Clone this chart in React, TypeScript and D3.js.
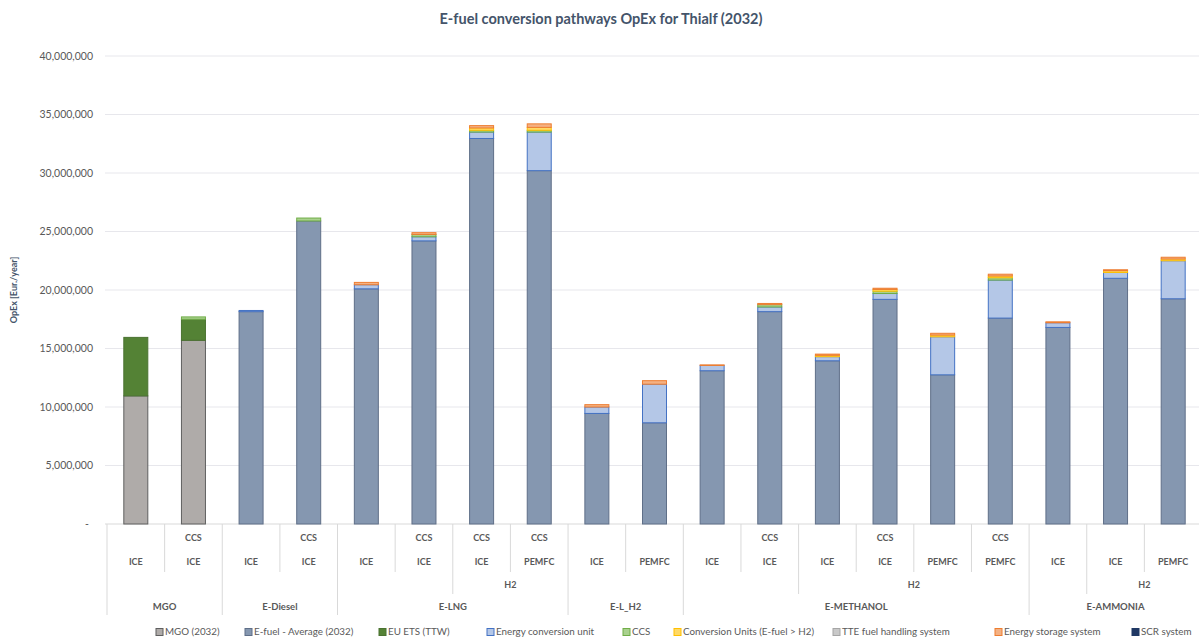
import React, { useEffect } from "react";
import * as d3 from "d3";

// ---------- DATA ----------
const level1 = ["", "CCS", "", "CCS", "", "CCS", "CCS", "CCS", "", "", "", "CCS", "", "CCS", "", "CCS", "", "", ""];
const level2 = ["ICE", "ICE", "ICE", "ICE", "ICE", "ICE", "ICE", "PEMFC", "ICE", "PEMFC", "ICE", "ICE", "ICE", "ICE", "PEMFC", "PEMFC", "ICE", "ICE", "PEMFC"];
const level3 = ["", "", "", "", "", "", "H2", "H2", "", "", "", "", "H2", "H2", "H2", "H2", "", "H2", "H2"];
const level4 = ["MGO", "MGO", "E-Diesel", "E-Diesel", "E-LNG", "E-LNG", "E-LNG", "E-LNG", "E-L_H2", "E-L_H2", "E-METHANOL", "E-METHANOL", "E-METHANOL", "E-METHANOL", "E-METHANOL", "E-METHANOL", "E-AMMONIA", "E-AMMONIA", "E-AMMONIA"];

const seriesNames = [
  "MGO (2032)",
  "E-fuel -  Average (2032)",
  "EU ETS  (TTW)",
  "Energy conversion unit",
  "CCS",
  "Conversion Units (E-fuel > H2)",
  "TTE fuel handling system",
  "Energy storage system",
  "SCR system",
];

const mgo = [10950000, 15700000, 0, 0, 0, 0, 0, 0, 0, 0, 0, 0, 0, 0, 0, 0, 0, 0, 0];
const efuel = [0, 0, 18150000, 25900000, 20100000, 24200000, 32950000, 30200000, 9450000, 8650000, 13100000, 18150000, 13950000, 19200000, 12750000, 17600000, 16800000, 21000000, 19250000];
const euEts = [5000000, 1800000, 0, 0, 0, 0, 0, 0, 0, 0, 0, 0, 0, 0, 0, 0, 0, 0, 0];
const energyConv = [0, 0, 100000, 0, 350000, 350000, 550000, 3300000, 550000, 3300000, 450000, 400000, 350000, 500000, 3250000, 3250000, 400000, 500000, 3250000];
const ccs = [0, 200000, 0, 250000, 0, 200000, 150000, 150000, 0, 0, 0, 200000, 0, 200000, 0, 200000, 0, 0, 0];
const convUnits = [0, 0, 0, 0, 0, 0, 200000, 250000, 0, 0, 0, 0, 120000, 150000, 150000, 150000, 0, 150000, 150000];
const tte = [0, 0, 0, 0, 0, 0, 0, 0, 0, 0, 0, 0, 0, 0, 0, 0, 0, 0, 0];
const storage = [0, 0, 0, 0, 200000, 150000, 200000, 300000, 200000, 300000, 50000, 100000, 100000, 100000, 150000, 150000, 80000, 80000, 150000];
const scr = [0, 0, 0, 0, 0, 0, 0, 0, 0, 0, 0, 0, 0, 0, 0, 0, 0, 0, 0];

const yTicks = [0, 5000000, 10000000, 15000000, 20000000, 25000000, 30000000, 35000000, 40000000];

const title = "E-fuel conversion pathways OpEx for Thialf (2032)";
const yTitle = "OpEx [Eur./year]";

// ---------- STYLE ----------
const fills = ["#afaba9", "#8597b0", "#548235", "#b4c7e7", "#a9d18e", "#ffd966", "#c9c9c9", "#f4b183", "#203864"];
const strokes = ["#5f5f5f", "#5f6f88", "#4a7230", "#4472c4", "#70ad47", "#ffc000", "#a5a5a5", "#ed7d31", "#1f3864"];
const legendX = [156, 245, 379, 487, 623, 674, 833, 995, 1132];

const W = 1199;
const H = 638;
const FONT = "Lato, 'Open Sans', sans-serif";

export default function App() {
  useEffect(() => {
    document.body.style.margin = "0";
  }, []);

  const series = [mgo, efuel, euEts, energyConv, ccs, convUnits, tte, storage, scr];
  const n = level2.length;
  const idx = d3.range(n);
  const x = d3.scaleBand<number>().domain(idx).range([107, 1202]).paddingInner(0).paddingOuter(0);
  const bw = x.bandwidth();
  const barW = 24;
  const y = d3.scaleLinear().domain([0, 40000000]).range([524, 56]);

  const table = idx.map((i) => {
    const o: any = { i };
    series.forEach((s, k) => (o["s" + k] = s[i]));
    return o;
  });
  const stack = d3.stack<any>().keys(series.map((_, k) => "s" + k))(table);

  const fmt = (v: number) => (v === 0 ? "-" : d3.format(",")(v));

  const axisTop = 524;
  const end12 = 572;
  const end123 = 594;
  const endAll = 615;

  const seps: { xp: number; y2: number }[] = [];
  seps.push({ xp: x(0)!, y2: endAll });
  for (let i = 0; i < n - 1; i++) {
    const xp = x(i + 1)!;
    let y2 = end12;
    if (level4[i] !== level4[i + 1]) y2 = endAll;
    else if (level3[i] !== level3[i + 1]) y2 = end123;
    seps.push({ xp, y2 });
  }

  const groups = (arr: string[], keyArr: string[][]) => {
    const out: { label: string; s: number; e: number }[] = [];
    let s = 0;
    for (let i = 1; i <= n; i++) {
      const changed = i === n || keyArr.some((a) => a[i] !== a[i - 1]) || arr[i] !== arr[i - 1];
      if (changed) {
        out.push({ label: arr[s], s, e: i - 1 });
        s = i;
      }
    }
    return out;
  };
  const g4 = groups(level4, []);
  const g3 = groups(level3, [level4]);

  const labelColor = "#595959";

  return (
    <svg width={W} height={H} style={{ position: "absolute", left: 0, top: 0, background: "#fff" }} fontFamily={FONT}>
      <rect x={0} y={0} width={W} height={H} fill="#fff" />
      <text x={601} y={24} textAnchor="middle" fontSize={14.5} fontWeight={700} fill="#44546a">
        {title}
      </text>
      {yTicks.map((t) => (
        <line key={"g" + t} x1={105} x2={W} y1={y(t)} y2={y(t)} stroke={t === 0 ? "#d9d9d9" : "#e7e7ec"} strokeWidth={1} />
      ))}
      {yTicks.map((t) => (
        <text key={"t" + t} x={t === 0 ? 89 : 93} y={y(t)} dy="0.35em" textAnchor="end" fontSize={10.5} fill={labelColor}>
          {fmt(t)}
        </text>
      ))}
      <text transform={`translate(17,${(56 + 524) / 2}) rotate(-90)`} textAnchor="middle" fontSize={9} fontWeight={700} fill="#44546a">
        {yTitle}
      </text>
      {stack.map((layer, k) => (
        <g key={"l" + k}>
          {layer.map((d, i) =>
            d[1] - d[0] > 0 ? (
              <rect
                key={i}
                x={x(i)! + (bw - barW) / 2}
                y={y(d[1])}
                width={barW}
                height={y(d[0]) - y(d[1])}
                fill={fills[k]}
                stroke={strokes[k]}
                strokeWidth={1}
              />
            ) : null
          )}
        </g>
      ))}
      {seps.map((s, i) => (
        <line key={"s" + i} x1={s.xp} x2={s.xp} y1={axisTop} y2={s.y2} stroke="#d9d9d9" strokeWidth={1} />
      ))}
      {idx.map((i) => (
        <g key={"c" + i} fontSize={9} fontWeight={700} fill={labelColor} textAnchor="middle">
          {level1[i] && (
            <text x={x(i)! + bw / 2} y={541}>
              {level1[i]}
            </text>
          )}
          <text x={x(i)! + bw / 2} y={565}>
            {level2[i]}
          </text>
        </g>
      ))}
      {g3
        .filter((g) => g.label)
        .map((g, j) => (
          <text key={"h" + j} x={(x(g.s)! + x(g.e)! + bw) / 2} y={588} textAnchor="middle" fontSize={9} fontWeight={700} fill={labelColor}>
            {g.label}
          </text>
        ))}
      {g4.map((g, j) => (
        <text key={"f" + j} x={(x(g.s)! + x(g.e)! + bw) / 2} y={610} textAnchor="middle" fontSize={9.5} fontWeight={700} fill={labelColor}>
          {g.label}
        </text>
      ))}
      {seriesNames.map((name, k) => (
        <g key={"lg" + k} transform={`translate(${legendX[k]},632)`}>
          <rect x={0} y={-3.5} width={7} height={7} fill={fills[k]} stroke={strokes[k]} strokeWidth={1} />
          <text x={9} y={0} dy="0.35em" fontSize={9.8} fill={labelColor}>
            {name}
          </text>
        </g>
      ))}
    </svg>
  );
}
